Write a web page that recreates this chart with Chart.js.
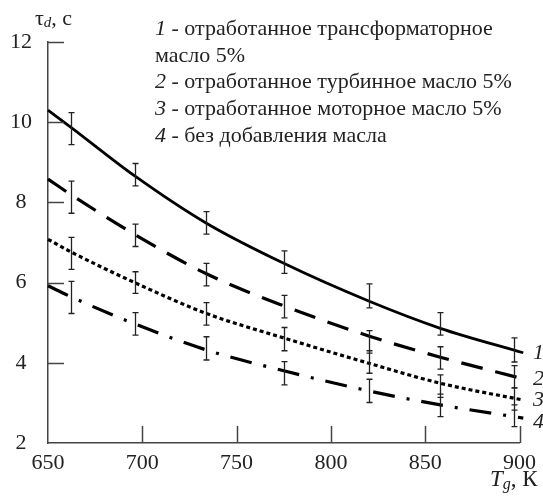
<!DOCTYPE html>
<html><head><meta charset="utf-8">
<script src="https://cdn.jsdelivr.net/npm/chart.js@4"></script>
<style>html,body{margin:0;padding:0;background:#fff}canvas{display:block}</style>
</head><body>
<canvas id="c" width="543" height="500"></canvas>
<script>
// Fitted curves: ignition delay vs. gas temperature
const curveT = [650, 662, 696, 734, 775, 820, 858, 902];
const curveTransformer = [10.30, 9.88, 8.66, 7.48, 6.48, 5.54, 4.86, 4.25];
const curveTurbine     = [8.58, 8.20, 7.20, 6.22, 5.42, 4.67, 4.14, 3.60];
const curveMotor       = [7.08, 6.77, 6.00, 5.23, 4.62, 3.99, 3.49, 3.07];
const curveNoOil       = [5.92, 5.65, 4.97, 4.32, 3.80, 3.30, 2.95, 2.62];

// Measured points with error half-widths
const measT = [662, 696, 734, 775, 820, 858, 897];
const measTransformer = [9.84, 8.69, 7.49, 6.51, 5.67, 4.97, 4.32];
const errTransformer  = [0.40, 0.28, 0.28, 0.28, 0.30, 0.28, 0.30];
const measTurbine     = [8.13, 7.18, 6.20, 5.40, 4.52, 4.12, 3.65];
const errTurbine      = [0.40, 0.28, 0.28, 0.28, 0.28, 0.28, 0.28];
const measMotor       = [6.73, 6.00, 5.22, 4.59, 4.02, 3.42, 3.10];
const errMotor        = [0.40, 0.27, 0.28, 0.29, 0.28, 0.28, 0.28];
const measNoOil       = [5.63, 4.97, 4.36, 3.74, 3.30, 2.94, 2.68];
const errNoOil        = [0.40, 0.28, 0.29, 0.29, 0.29, 0.28, 0.27];

const seriesNumbers = ['1', '2', '3', '4'];
const legendTexts = [
  ['отработанное трансформаторное', 'масло 5%'],
  ['отработанное турбинное масло 5%'],
  ['отработанное моторное масло 5%'],
  ['без добавления масла']
];

const xMin = 650, xMax = 900, xStep = 50;
const yMin = 2, yMax = 12, yStep = 2;

const SERIF = '"Liberation Serif", "Times New Roman", serif';
const TEXT = '#222';

const curves = [curveTransformer, curveTurbine, curveMotor, curveNoOil];
const meas = [measTransformer, measTurbine, measMotor, measNoOil];
const errs = [errTransformer, errTurbine, errMotor, errNoOil];
const dashes = [[], [22, 13], [4, 3], [22, 12, 3, 12]];

const datasets = curves.map((vals, i) => ({
  data: curveT.map((t, k) => ({x: t, y: vals[k]})),
  borderColor: '#000',
  borderWidth: i === 0 ? 2.8 : 3.2,
  borderDash: dashes[i],
  pointRadius: 0,
  cubicInterpolationMode: 'monotone',
  fill: false,
  clip: false
}));

// Inward tick marks, error bars and annotation text
const decor = {
  id: 'decor',
  afterDatasetsDraw(chart) {
    const {ctx, scales: {x, y}, chartArea: a} = chart;
    ctx.save();
    // inward ticks
    ctx.strokeStyle = '#444';
    ctx.lineWidth = 1.5;
    ctx.beginPath();
    y.ticks.forEach(t => {
      if (t.value === yMin) return;
      const py = Math.round(y.getPixelForValue(t.value)) + 0.5;
      ctx.moveTo(a.left, py); ctx.lineTo(a.left + 16, py);
    });
    x.ticks.forEach(t => {
      if (t.value === xMin) return;
      const px = Math.round(x.getPixelForValue(t.value)) + 0.5;
      ctx.moveTo(px, a.bottom); ctx.lineTo(px, a.bottom - 17);
    });
    ctx.stroke();

    // error bars
    ctx.strokeStyle = '#222';
    ctx.lineWidth = 1.3;
    ctx.beginPath();
    meas.forEach((vals, i) => {
      vals.forEach((v, k) => {
        const px = Math.round(x.getPixelForValue(measT[k])) + 0.5;
        const top = y.getPixelForValue(v + errs[i][k]);
        const bot = y.getPixelForValue(v - errs[i][k]);
        ctx.moveTo(px, top); ctx.lineTo(px, bot);
        ctx.moveTo(px - 3, top); ctx.lineTo(px + 3, top);
        ctx.moveTo(px - 3, bot); ctx.lineTo(px + 3, bot);
      });
    });
    ctx.stroke();

    ctx.fillStyle = TEXT;
    ctx.textAlign = 'left';

    // series numbers at curve ends
    const nudge = [0, 0, 0, 4];
    ctx.font = 'italic 22px ' + SERIF;
    ctx.textBaseline = 'middle';
    curves.forEach((vals, i) => {
      const py = y.getPixelForValue(vals[vals.length - 1]) + nudge[i];
      ctx.fillText(seriesNumbers[i], 533, py);
    });
    ctx.textBaseline = 'alphabetic';

    // legend block
    let row = 0;
    const lx = 155, ly0 = 35, lh = 26.7;
    legendTexts.forEach((lines, i) => {
      lines.forEach((line, j) => {
        const by = ly0 + row * lh;
        if (j === 0) {
          ctx.font = 'italic 22px ' + SERIF;
          ctx.fillText(seriesNumbers[i], lx, by);
          const w = ctx.measureText(seriesNumbers[i]).width;
          ctx.font = '22px ' + SERIF;
          ctx.fillText(' - ' + line, lx + w, by);
        } else {
          ctx.font = '22px ' + SERIF;
          ctx.fillText(line, lx, by);
        }
        row++;
      });
    });

    // y axis title: tau_d, c
    let tx = 35;
    ctx.font = '22px ' + SERIF;
    ctx.fillText('τ', tx, 25); tx += ctx.measureText('τ').width;
    ctx.font = 'italic 15px ' + SERIF;
    ctx.fillText('d', tx, 27); tx += ctx.measureText('d').width;
    ctx.font = '22px ' + SERIF;
    ctx.fillText(', с', tx, 25);

    // x axis title: T_g, K
    tx = 490;
    ctx.font = 'italic 23px ' + SERIF;
    ctx.fillText('T', tx, 486); tx += ctx.measureText('T').width;
    ctx.font = 'italic 16px ' + SERIF;
    ctx.fillText('g', tx, 489); tx += ctx.measureText('g').width;
    ctx.font = '23px ' + SERIF;
    ctx.fillText(', К', tx, 486);
    ctx.restore();
  }
};

new Chart(document.getElementById('c'), {
  type: 'line',
  data: {datasets},
  plugins: [decor],
  options: {
    responsive: false,
    animation: false,
    devicePixelRatio: 1,
    layout: {padding: {top: 42, right: 22, left: 0, bottom: 0}},
    plugins: {legend: {display: false}, tooltip: {enabled: false}},
    scales: {
      x: {
        type: 'linear', min: xMin, max: xMax,
        afterFit(s) { s.height = 57; },
        grid: {display: false, drawTicks: false},
        border: {display: true, color: '#444', width: 1.5},
        ticks: {stepSize: xStep, padding: 7, color: TEXT, font: {family: SERIF, size: 22}, maxRotation: 0}
      },
      y: {
        type: 'linear', min: yMin, max: yMax,
        afterFit(s) { s.width = 48; },
        grid: {display: false, drawTicks: false},
        border: {display: true, color: '#444', width: 1.5},
        ticks: {stepSize: yStep, padding: 16, crossAlign: 'center', color: TEXT, font: {family: SERIF, size: 22}}
      }
    }
  }
});
</script>
</body></html>
